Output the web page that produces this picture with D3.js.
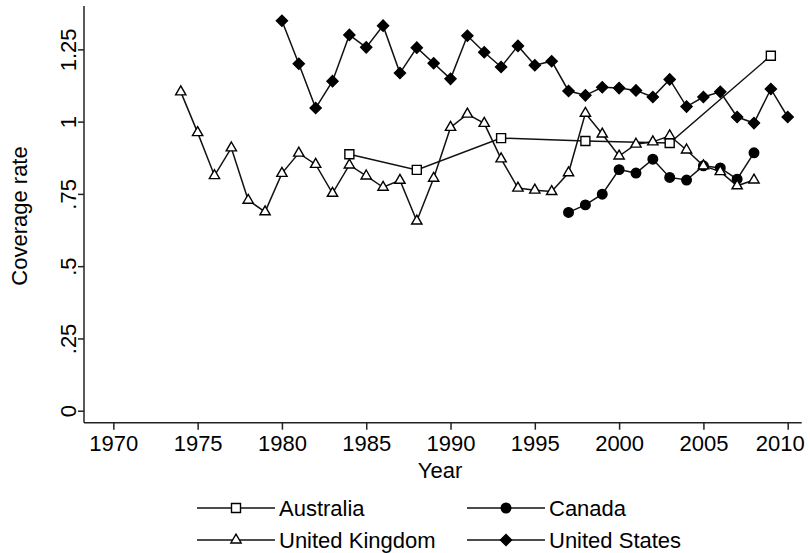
<!DOCTYPE html>
<html>
<head>
<meta charset="utf-8">
<script src="https://cdn.jsdelivr.net/npm/d3@7"></script>
<style>
  body { margin: 0; background: #fff; }
  svg { display: block; font-family: "Liberation Sans", Arial, sans-serif; }
</style>
</head>
<body>
<div id="chart"></div>
<script>
// Data
var ausYears = [1984, 1988, 1993, 1998, 2003, 2009];
var ausValues = [0.887, 0.833, 0.943, 0.933, 0.926, 1.228];

var canYears = [1997, 1998, 1999, 2000, 2001, 2002, 2003, 2004, 2005, 2006, 2007, 2008];
var canValues = [0.686, 0.712, 0.749, 0.834, 0.822, 0.870, 0.807, 0.798, 0.847, 0.840, 0.801, 0.892];

var ukYears = d3.range(1974, 2009);
var ukValues = [1.103, 0.962, 0.813, 0.909, 0.728, 0.688, 0.821, 0.891, 0.852, 0.752,
                0.850, 0.812, 0.773, 0.797, 0.656, 0.804, 0.980, 1.026, 0.994, 0.871,
                0.770, 0.763, 0.758, 0.823, 1.029, 0.957, 0.881, 0.922, 0.930, 0.951,
                0.902, 0.847, 0.827, 0.778, 0.798];

var usYears = d3.range(1980, 2011);
var usValues = [1.349, 1.200, 1.047, 1.140, 1.300, 1.257, 1.332, 1.168, 1.256, 1.202,
                1.148, 1.297, 1.240, 1.189, 1.262, 1.195, 1.209, 1.106, 1.091, 1.119,
                1.116, 1.108, 1.085, 1.146, 1.052, 1.085, 1.103, 1.016, 0.995, 1.113,
                1.016];

var xTicks = [1970, 1975, 1980, 1985, 1990, 1995, 2000, 2005, 2010];
var yTicks = [0, 0.25, 0.5, 0.75, 1, 1.25];
var yTickLabels = ["0", ".25", ".5", ".75", "1", "1.25"];

function init() {
    var w = 810;
    var h = 553;

    var x = d3.scaleLinear().domain([1968.26, 2010.83]).range([84, 801.7]);
    var y = d3.scaleLinear().domain([-0.0415, 1.40]).range([422.7, 6]);

    var svg = d3.select("#chart")
        .append("svg")
        .attr("width", w)
        .attr("height", h);

    // series definitions (drawn in this order)
    var series = [
        { name: "Australia", years: ausYears, values: ausValues, shape: "square" },
        { name: "Canada", years: canYears, values: canValues, shape: "circle" },
        { name: "United Kingdom", years: ukYears, values: ukValues, shape: "triangle" },
        { name: "United States", years: usYears, values: usValues, shape: "diamond" }
    ];

    function symbolFor(shape) {
        if (shape == "square") return { fill: "#fff", path: d3.symbol().type(d3.symbolSquare).size(81)(), rot: 0 };
        if (shape == "circle") return { fill: "#000", path: d3.symbol().type(d3.symbolCircle).size(72)(), rot: 0 };
        if (shape == "triangle") return { fill: "#fff", path: d3.symbol().type(d3.symbolTriangle).size(46)(), rot: 0 };
        return { fill: "#000", path: d3.symbol().type(d3.symbolSquare).size(62)(), rot: 45 };
    }

    var line = d3.line()
        .x(function (d) { return x(d.year); })
        .y(function (d) { return y(d.value); });

    series.forEach(function (s) {
        var pts = s.years.map(function (yr, i) { return { year: yr, value: s.values[i] }; });
        var sym = symbolFor(s.shape);
        var g = svg.append("g");

        g.append("path")
            .datum(pts)
            .attr("d", line)
            .attr("fill", "none")
            .attr("stroke", "#111")
            .attr("stroke-width", 1.5);

        g.selectAll("path.mark")
            .data(pts)
            .enter()
            .append("path")
            .attr("class", "mark")
            .attr("d", sym.path)
            .attr("transform", function (d) {
                return "translate(" + x(d.year) + "," + y(d.value) + ") rotate(" + sym.rot + ")";
            })
            .attr("fill", sym.fill)
            .attr("stroke", "#000")
            .attr("stroke-width", 1.4);
    });

    // axes
    var xAxis = d3.axisBottom(x).tickValues(xTicks).tickFormat(d3.format("d")).tickSize(7).tickPadding(6);
    var gx = svg.append("g")
        .attr("transform", "translate(0," + 422.7 + ")")
        .call(xAxis);
    gx.select(".domain").attr("d", "M84,0H801.7");

    var yAxis = d3.axisLeft(y).tickValues(yTicks)
        .tickFormat(function (d, i) { return yTickLabels[i]; })
        .tickSize(6).tickPadding(4);
    var gy = svg.append("g")
        .attr("transform", "translate(84,0)")
        .call(yAxis);
    gy.select(".domain").attr("d", "M0,6V422.7");

    svg.selectAll(".domain").attr("stroke", "#222").attr("stroke-width", 1.5);
    svg.selectAll(".tick line").attr("stroke", "#222").attr("stroke-width", 1.5);
    svg.selectAll(".tick text").attr("font-size", "22px").attr("fill", "#000")
        .attr("font-family", "'Liberation Sans', Arial, sans-serif");

    // last year label is pulled inside the edge, as in the original
    gx.selectAll(".tick text")
        .filter(function (d) { return d == 2010; })
        .attr("dx", -8);

    // rotate y tick labels
    gy.selectAll(".tick text")
        .attr("transform", "rotate(-90)")
        .attr("x", 0)
        .attr("y", -8)
        .attr("dy", 0)
        .attr("text-anchor", "middle");

    // axis titles
    svg.append("text")
        .attr("x", 440)
        .attr("y", 478)
        .attr("text-anchor", "middle")
        .attr("font-size", "22px")
        .text("Year");

    svg.append("text")
        .attr("transform", "translate(27,216) rotate(-90)")
        .attr("text-anchor", "middle")
        .attr("font-size", "22px")
        .text("Coverage rate");

    // legend
    var legendPos = [
        { x0: 197, y0: 508 },
        { x0: 467, y0: 508 },
        { x0: 197, y0: 540 },
        { x0: 467, y0: 540 }
    ];
    series.forEach(function (s, i) {
        var p = legendPos[i];
        var sym = symbolFor(s.shape);
        var lg = svg.append("g").attr("transform", "translate(" + p.x0 + "," + p.y0 + ")");
        lg.append("line")
            .attr("x1", 0).attr("x2", 78)
            .attr("y1", 0).attr("y2", 0)
            .attr("stroke", "#111")
            .attr("stroke-width", 1.5);
        lg.append("path")
            .attr("d", sym.path)
            .attr("transform", "translate(39,0) rotate(" + sym.rot + ")")
            .attr("fill", sym.fill)
            .attr("stroke", "#000")
            .attr("stroke-width", 1.4);
        lg.append("text")
            .attr("x", 82)
            .attr("y", 8)
            .attr("font-size", "22px")
            .text(s.name);
    });
}

window.onload = init;
</script>
</body>
</html>
